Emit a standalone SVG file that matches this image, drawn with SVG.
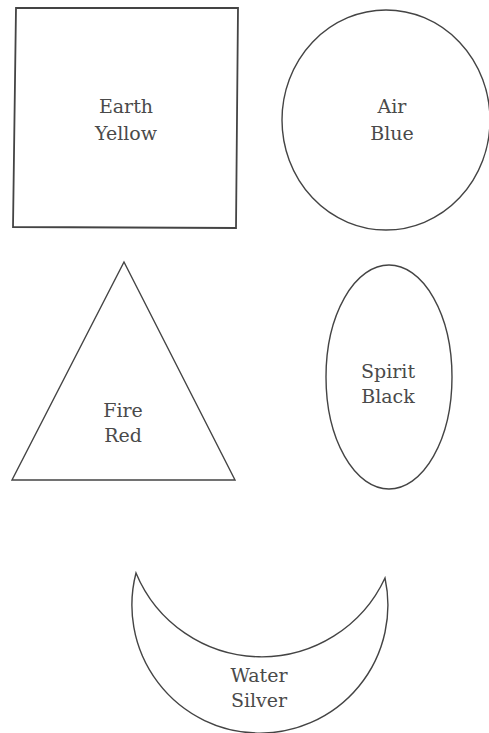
<svg xmlns="http://www.w3.org/2000/svg" width="489" height="733" viewBox="0 0 489 733">
<style>
.shape{fill:none;stroke:#444;stroke-width:1.4;stroke-linejoin:miter}
.lbl{font-family:"DejaVu Serif","Liberation Serif",serif;font-size:19px;fill:#4a4a4a;text-anchor:middle}
</style>
<rect width="489" height="733" fill="#fff"/>
<g id="earth">
<polygon class="shape" points="16,8 238,8 236,228 13,227" style="stroke-width:1.8"/>
<text class="lbl" x="126" y="113">Earth</text>
<text class="lbl" x="126" y="140">Yellow</text>
</g>
<g id="air">
<ellipse class="shape" cx="386" cy="120" rx="104" ry="110"/>
<text class="lbl" x="392" y="113">Air</text>
<text class="lbl" x="392" y="140">Blue</text>
</g>
<g id="fire">
<polygon class="shape" points="124,262 235,480 12,480"/>
<text class="lbl" x="123" y="417">Fire</text>
<text class="lbl" x="123" y="442">Red</text>
</g>
<g id="spirit">
<ellipse class="shape" cx="389" cy="377" rx="63" ry="112"/>
<text class="lbl" x="388" y="378">Spirit</text>
<text class="lbl" x="388" y="403">Black</text>
</g>
<g id="water">
<path class="shape" d="M136,573 A128,128 0 1 0 385,578 A136,136 0 0 1 136,573 Z"/>
<text class="lbl" x="259" y="682">Water</text>
<text class="lbl" x="259" y="707">Silver</text>
</g>
<g id="connectors"></g>
</svg>
